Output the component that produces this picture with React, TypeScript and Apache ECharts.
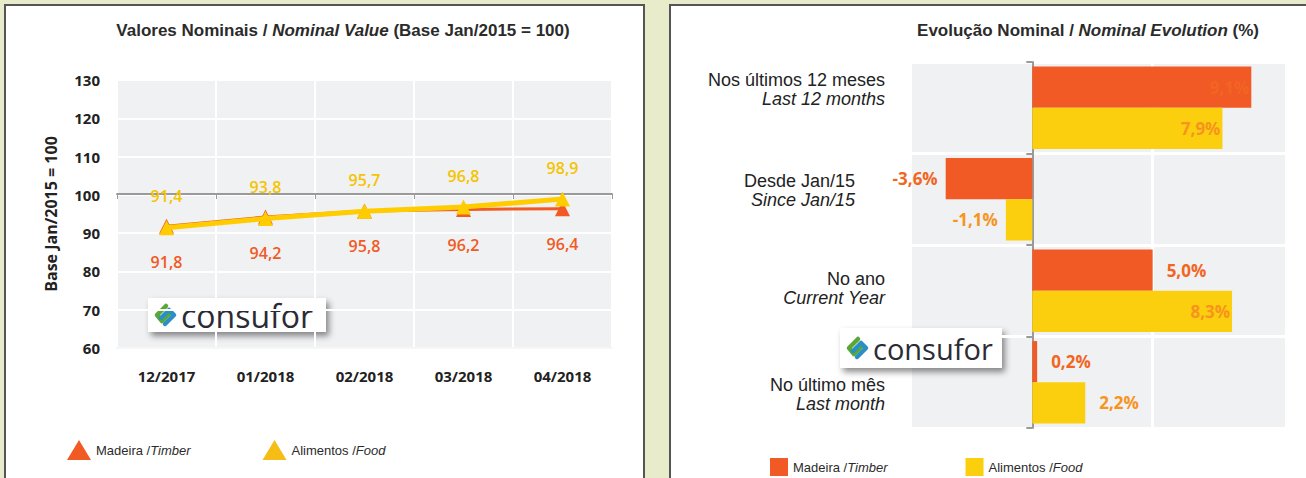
import React, { useEffect, useRef } from "react";
import * as echarts from "echarts";

const months = ["12/2017", "01/2018", "02/2018", "03/2018", "04/2018"];
const timberIndex = [91.8, 94.2, 95.8, 96.2, 96.4];
const foodIndex = [91.4, 93.8, 95.7, 96.8, 98.9];
const yTicksLeft = [60, 130, 10];

const periodsPt = ["Nos últimos 12 meses", "Desde Jan/15", "No ano", "No último mês"];
const periodsEn = ["Last 12 months", "Since Jan/15", "Current Year", "Last month"];
const timberPct = [9.1, -3.6, 5.0, 0.2];
const foodPct = [7.9, -1.1, 8.3, 2.2];

const seriesPt = ["Madeira", "Alimentos"];
const seriesEn = ["Timber", "Food"];

// vertical / horizontal nudges (px) of the category labels, as in the reference layout
const labelNudgeY = [-18, -9, -2, 12];
const labelNudgeX = [0, 30, 0, 0];

const RED = "#f15a24";
const YEL = "#fccf0e";
const YEL_LINE = "#ffcc00";
const LBL_ORANGE = "#f7941d";
const COND = "'Liberation Sans', Arial, sans-serif";
const SANS = "'Open Sans', 'Noto Sans', sans-serif";

const fmt = (v: number) => v.toFixed(1).replace(".", ",");

function logo(x: number, y: number, w: number, h: number, fs: number) {
  const cy = h / 2;
  return {
    type: "group",
    x,
    y,
    z: 100,
    children: [
      {
        type: "rect",
        shape: { x: 0, y: 0, width: w, height: h },
        style: { fill: "#ffffff", shadowBlur: 6, shadowOffsetX: 3, shadowOffsetY: 4, shadowColor: "rgba(0,0,0,0.45)" },
      },
      {
        type: "polyline",
        shape: { points: [[18, cy - 9], [9, cy], [14, cy + 6], [22, cy - 2]] },
        style: { stroke: "#5aa832", lineWidth: 4.5, fill: null, lineJoin: "round", lineCap: "round" },
      },
      {
        type: "polyline",
        shape: { points: [[13, cy + 3], [21, cy - 5], [26, cy], [17, cy + 9]] },
        style: { stroke: "#2a8fc4", lineWidth: 4.5, fill: null, lineJoin: "round", lineCap: "round" },
      },
      {
        type: "text",
        x: 33,
        y: cy,
        style: { text: "consufor", font: `${fs}px 'Open Sans', sans-serif`, fill: "#2b2b35", verticalAlign: "middle", textAlign: "left" },
      },
    ],
  };
}

export default function App() {
  const ref = useRef<HTMLDivElement>(null);
  useEffect(() => {
    document.body.style.margin = "0";
    const chart = echarts.init(ref.current!, null, { renderer: "svg" });
    const legendFmt = (name: string) => {
      const i = seriesPt.indexOf(name);
      return `{a|${seriesPt[i]} /}{b|${seriesEn[i]}}`;
    };
    const legendRich = {
      a: { fontFamily: COND, fontSize: 13, color: "#2b2b2b" },
      b: { fontFamily: COND, fontSize: 13, fontStyle: "italic", color: "#2b2b2b" },
    };
    const barLabel = (v: number, color: string) => ({
      value: v,
      label: {
        show: true,
        position: v < 0 ? "left" : v > 7 ? "insideRight" : "right",
        distance: v < 0 ? 8 : v > 7 ? 2 : 14,
        formatter: fmt(v) + "%",
        color,
        fontFamily: SANS,
        fontWeight: "bold",
        fontSize: 17,
      },
    });
    chart.setOption({
      animation: false,
      backgroundColor: "#e8ecca",
      graphic: [
        { type: "rect", z: -10, shape: { x: 5, y: 5, width: 639, height: 480 }, style: { fill: "#ffffff", stroke: "#555555", lineWidth: 2 } },
        { type: "rect", z: -10, shape: { x: 670, y: 5, width: 645, height: 480 }, style: { fill: "#ffffff", stroke: "#555555", lineWidth: 2 } },
        {
          type: "text",
          x: 343,
          y: 30,
          style: {
            text: "{a|Valores Nominais / }{b|Nominal Value}{a| (Base Jan/2015 = 100)}",
            rich: {
              a: { font: `bold 17px ${COND}`, fill: "#2b2b2b" },
              b: { font: `italic bold 17px ${COND}`, fill: "#2b2b2b" },
            },
            textAlign: "center",
            verticalAlign: "middle",
          },
        },
        {
          type: "text",
          x: 1088,
          y: 30,
          style: {
            text: "{a|Evolução Nominal / }{b|Nominal Evolution}{a| (%)}",
            rich: {
              a: { font: `bold 17px ${COND}`, fill: "#2b2b2b" },
              b: { font: `italic bold 17px ${COND}`, fill: "#2b2b2b" },
            },
            textAlign: "center",
            verticalAlign: "middle",
          },
        },
        logo(148, 298, 178, 34, 32),
        logo(840, 328, 162, 40, 29),
      ],
      legend: [
        {
          left: 62,
          top: 435,
          itemWidth: 24,
          itemHeight: 20,
          itemGap: 72,
          icon: "triangle",
          data: [
            { name: seriesPt[0], itemStyle: { color: RED } },
            { name: seriesPt[1], itemStyle: { color: "#f5bd16" } },
          ],
          formatter: legendFmt,
          textStyle: { rich: legendRich },
        },
        {
          left: 765,
          top: 453,
          itemWidth: 18,
          itemHeight: 18,
          itemGap: 78,
          icon: "rect",
          data: [
            { name: seriesPt[0], itemStyle: { color: RED } },
            { name: seriesPt[1], itemStyle: { color: YEL } },
          ],
          formatter: legendFmt,
          textStyle: { rich: legendRich },
        },
      ],
      grid: [
        { left: 117, right: 694, top: 80, bottom: 130, show: true, backgroundColor: "#f0f1f3", borderWidth: 0 },
        { left: 912, right: 21, top: 62, bottom: 50, show: true, backgroundColor: "#f0f1f3", borderWidth: 0 },
      ],
      xAxis: [
        {
          type: "category",
          gridIndex: 0,
          data: months,
          boundaryGap: true,
          axisLine: { show: true, lineStyle: { color: "#f6f6f6", width: 2 } },
          axisTick: { show: false },
          splitLine: { show: true, lineStyle: { color: "#ffffff", width: 2 } },
          axisLabel: { margin: 20, color: "#222", fontFamily: SANS, fontWeight: "bold", fontSize: 15 },
        },
        {
          type: "category",
          gridIndex: 0,
          data: months,
          position: "top",
          offset: -114,
          axisLine: { show: true, lineStyle: { color: "#9a9a9a", width: 2 } },
          axisTick: { show: true, inside: true, length: 5, lineStyle: { color: "#9a9a9a" } },
          axisLabel: { show: false },
          splitLine: { show: false },
        },
        {
          type: "value",
          gridIndex: 1,
          min: -5,
          max: 10.5,
          interval: 5,
          axisLine: { show: false },
          axisTick: { show: false },
          axisLabel: { show: false },
          splitLine: { show: false },
        },
      ],
      yAxis: [
        {
          type: "value",
          gridIndex: 0,
          min: yTicksLeft[0],
          max: yTicksLeft[1],
          interval: yTicksLeft[2],
          name: "Base Jan/2015 = 100",
          nameLocation: "middle",
          nameGap: 58,
          nameTextStyle: { fontFamily: SANS, fontWeight: "bold", fontSize: 16, color: "#222" },
          axisLine: { show: false },
          axisTick: { show: false },
          splitLine: { show: true, lineStyle: { color: "#ffffff", width: 2 } },
          axisLabel: { margin: 17, color: "#222", fontFamily: SANS, fontWeight: "bold", fontSize: 15 },
        },
        {
          type: "category",
          gridIndex: 1,
          xAxisIndex: 2,
          inverse: true,
          data: periodsPt.map((p, i) => ({
            value: `${p}\n${periodsEn[i]}`,
            textStyle: {
              padding: [
                labelNudgeY[i] > 0 ? 2 * labelNudgeY[i] : 0,
                labelNudgeX[i],
                labelNudgeY[i] < 0 ? -2 * labelNudgeY[i] : 0,
                0,
              ],
            },
          })),
          axisLine: { show: true, onZero: true, lineStyle: { color: "#9a9a9a", width: 2 } },
          axisTick: { show: true, length: 6, lineStyle: { color: "#9a9a9a", width: 2 } },
          splitLine: { show: true, lineStyle: { color: "#ffffff", width: 3 } },
          axisLabel: {
            margin: 27,
            formatter: (v: string) => {
              const [a, b] = v.split("\n");
              return `{a|${a}}\n{b|${b}}`;
            },
            rich: {
              a: { fontFamily: COND, fontSize: 18, color: "#222", align: "right", lineHeight: 19 },
              b: { fontFamily: COND, fontSize: 18, fontStyle: "italic", color: "#222", align: "right", lineHeight: 19 },
            },
          },
        },
      ],
      series: [
        {
          type: "line",
          name: seriesPt[0],
          xAxisIndex: 0,
          yAxisIndex: 0,
          data: timberIndex,
          symbol: "triangle",
          symbolSize: 15,
          lineStyle: { color: RED, width: 3 },
          itemStyle: { color: RED },
          label: { show: true, position: "bottom", distance: 20, formatter: (p: any) => fmt(p.value), color: RED, fontFamily: SANS, fontWeight: 600, fontSize: 16 },
          z: 3,
        },
        {
          type: "line",
          name: seriesPt[1],
          xAxisIndex: 0,
          yAxisIndex: 0,
          data: foodIndex,
          symbol: "triangle",
          symbolSize: 15,
          lineStyle: { color: YEL_LINE, width: 5 },
          itemStyle: { color: YEL_LINE },
          label: { show: true, position: "top", distance: 16, formatter: (p: any) => fmt(p.value), color: "#f5c400", fontFamily: SANS, fontWeight: 600, fontSize: 16 },
          z: 4,
        },
        {
          type: "line",
          name: "grid5",
          xAxisIndex: 2,
          yAxisIndex: 1,
          data: [],
          z: 1,
          silent: true,
          markLine: {
            silent: true,
            z: 1,
            symbol: "none",
            label: { show: false },
            lineStyle: { color: "#ffffff", width: 3, type: "solid" },
            data: [{ xAxis: 5 }],
          },
        },
        {
          type: "bar",
          name: seriesPt[0],
          xAxisIndex: 2,
          yAxisIndex: 1,
          data: timberPct.map((v) => barLabel(v, "#f26522")),
          itemStyle: { color: RED },
          barGap: "0%",
          barCategoryGap: "10%",
          z: 10,
        },
        {
          type: "bar",
          name: seriesPt[1],
          xAxisIndex: 2,
          yAxisIndex: 1,
          data: foodPct.map((v) => barLabel(v, LBL_ORANGE)),
          itemStyle: { color: YEL },
          barGap: "0%",
          barCategoryGap: "10%",
          z: 10,
        },
      ],
    });
    return () => chart.dispose();
  }, []);
  return <div ref={ref} style={{ position: "absolute", left: 0, top: 0, width: 1306, height: 478 }} />;
}
